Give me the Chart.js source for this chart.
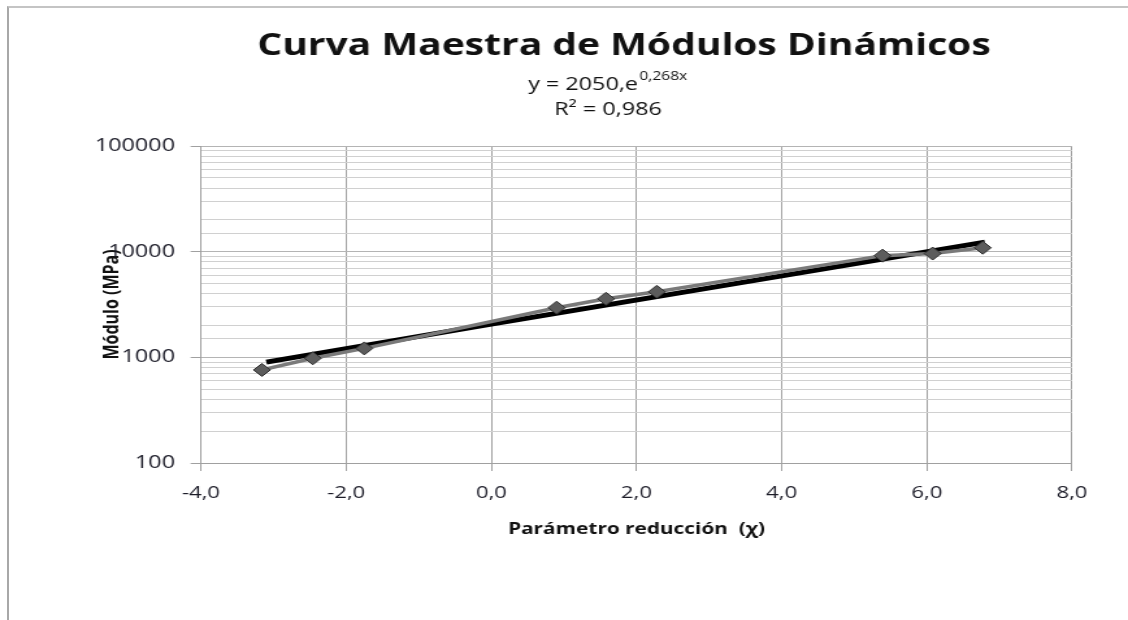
<!DOCTYPE html>
<html>
<head>
<meta charset="utf-8">
<script src="https://cdn.jsdelivr.net/npm/chart.js@4.4.1/dist/chart.umd.min.js"></script>
<style>
  html, body { margin: 0; padding: 0; background: #fff; overflow: hidden; }
  #wrap { position: relative; width: 1128px; height: 620px; }
  #chart { display: block; }
  #frame { position: absolute; left: 7px; top: 6px; width: 1130px; height: 620px;
           border-left: 2px solid #a8a8a8; border-top: 2px solid #c4c4c4; pointer-events: none; }
</style>
</head>
<body>
<div id="wrap">
  <canvas id="chart" width="868" height="620" style="width:1128px;height:620px"></canvas>
  <div id="frame"></div>
</div>
<script>
// Data
const reductionParam = [-3.16, -2.46, -1.75, 0.90, 1.58, 2.28, 5.39, 6.08, 6.77];
const modulus = [760, 980, 1215, 2950, 3580, 4170, 9170, 9600, 10900];

// Black fitted curve (straight on the log axis), read at its ends and middle
const trendX = [-3.1, 0, 6.8];
const trendY = [900, 2060, 12300];

const xTicks = [-4, -2, 0, 2, 4, 6, 8];
const yMajorTicks = [100, 1000, 10000, 100000];

const titleText = "Curva Maestra de Módulos Dinámicos";
const eqMain = "y = 2050,e";
const eqExp = "0,268x";
const r2Text = "R² = 0,986";

// The reference picture is stretched sideways, so the canvas is drawn narrower
// and widened by CSS
const S = 1128 / 868;
const FONT = "'Open Sans', sans-serif";

function toPoints(xs, ys) {
  return xs.map((x, i) => ({ x: x, y: ys[i] }));
}

// Draw title and trendline equation
const headerText = {
  id: 'headerText',
  afterDraw(chart) {
    const ctx = chart.ctx;
    ctx.save();
    ctx.fillStyle = '#111';
    ctx.textBaseline = 'alphabetic';

    ctx.textAlign = 'center';
    ctx.font = "bold 30px " + FONT;
    ctx.fillText(titleText, 624 / S, 55);

    // equation with superscript
    ctx.textAlign = 'left';
    ctx.font = "18px " + FONT;
    const w1 = ctx.measureText(eqMain).width;
    ctx.font = "12px " + FONT;
    const w2 = ctx.measureText(eqExp).width;
    const x0 = 607 / S - (w1 + w2) / 2;
    ctx.font = "18px " + FONT;
    ctx.fillText(eqMain, x0, 90);
    ctx.font = "12px " + FONT;
    ctx.fillText(eqExp, x0 + w1 + 1, 80);

    ctx.textAlign = 'center';
    ctx.font = "18px " + FONT;
    ctx.fillText(r2Text, 608 / S, 115);
    ctx.restore();
  }
};

const isMajor = v => yMajorTicks.includes(Math.round(v));

new Chart(document.getElementById('chart').getContext('2d'), {
  type: 'scatter',
  data: {
    datasets: [
      {
        label: 'Módulo',
        data: toPoints(reductionParam, modulus),
        showLine: true,
        borderColor: '#7a7a7a',
        borderWidth: 3.5,
        pointStyle: 'rectRot',
        pointRadius: 6.5,
        pointBackgroundColor: '#5c5c5c',
        pointBorderColor: '#2e2e2e',
        pointBorderWidth: 1
      },
      {
        label: 'Exponencial',
        data: toPoints(trendX, trendY),
        showLine: true,
        borderColor: '#000',
        borderWidth: 5,
        pointRadius: 0
      }
    ]
  },
  options: {
    responsive: false,
    animation: false,
    events: [],
    layout: { padding: { top: 146, right: 56 / S, left: 0, bottom: 0 } },
    plugins: {
      legend: { display: false },
      tooltip: { enabled: false }
    },
    scales: {
      x: {
        type: 'linear',
        min: -4,
        max: 8,
        afterFit(scale) { scale.height = 157; },
        afterBuildTicks(scale) { scale.ticks = xTicks.map(v => ({ value: v })); },
        ticks: {
          color: '#1c1c28',
          font: { family: FONT, size: 17 },
          padding: 12,
          maxRotation: 0,
          callback: v => v.toFixed(1).replace('.', ',')
        },
        grid: { color: '#a0a0a0', lineWidth: 1, tickLength: 8, tickColor: '#a0a0a0' },
        border: { color: '#a0a0a0', width: 1 },
        title: {
          display: true,
          text: 'Parámetro reducción  (χ)',
          color: '#111',
          font: { family: FONT, size: 16, weight: 'bold' },
          padding: { top: 0, bottom: 81 }
        }
      },
      y: {
        type: 'logarithmic',
        min: 100,
        max: 100000,
        afterFit(scale) { scale.width = 201 / S; },
        ticks: {
          autoSkip: false,
          color: '#1c1c28',
          font: { family: FONT, size: 18 },
          padding: 12,
          callback: v => isMajor(v) ? String(Math.round(v)) : ''
        },
        grid: {
          color: ctx => isMajor(ctx.tick.value) ? '#b4b4b4' : '#d0d0d0',
          lineWidth: 1,
          tickLength: 8,
          tickColor: ctx => isMajor(ctx.tick.value) ? '#a0a0a0' : 'rgba(0,0,0,0)'
        },
        border: { color: '#a0a0a0', width: 1 },
        title: {
          display: true,
          text: 'Módulo (MPa)',
          color: '#111',
          font: { family: FONT, size: 16, weight: 'bold' },
          padding: { top: 77, bottom: 0 }
        }
      }
    }
  },
  plugins: [headerText]
});
</script>
</body>
</html>
